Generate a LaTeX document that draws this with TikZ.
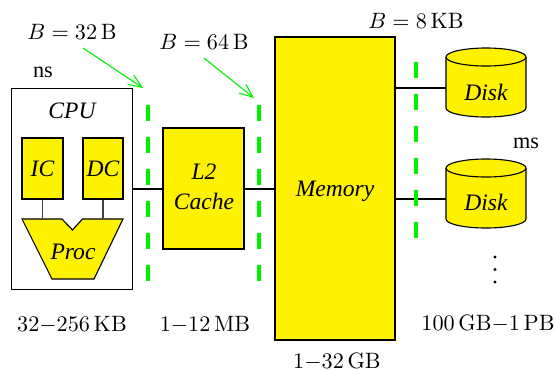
\documentclass[tikz,border=0pt]{standalone}
\usepackage[no-math]{fontspec}
\setmainfont{Liberation Serif}
\usetikzlibrary{arrows.meta}
\definecolor{gr}{RGB}{0,240,0}
\begin{document}
\begin{tikzpicture}[x=0.45pt,y=-0.45pt,
  box/.style={draw=black, line width=0.5pt, fill=yellow, inner sep=0pt},
  lbl/.style={font=\fontsize{10.6}{13.5}\selectfont\itshape, inner sep=0pt, align=center},
  txt/.style={font=\fontsize{10}{12}\selectfont, inner sep=0pt},
  gdash/.style={draw=gr, line width=1.8pt, dash pattern=on 7.2pt off 7.2pt},
  garrow/.style={draw=gr, line width=0.5pt, -{Straight Barb[length=6pt,width=5pt]}},
  conn/.style={draw=black, line width=0.9pt},
  thin/.style={draw=black!75, line width=0.5pt}]
\useasboundingbox (0,0) rectangle (555,370);
% CPU enclosure
\node[draw=black, line width=0.45pt, fill=white, minimum width={121*0.45pt}, minimum height={201*0.45pt}] (cpu) at (72.5,188.5) {};
\node[lbl] (cputxt) at (72,111) {CPU};
\node[box, minimum width={41*0.45pt}, minimum height={61*0.45pt}] (ic) at (42.5,168.5) {};
\node[lbl] at (ic.center) {IC};
\node[box, minimum width={40*0.45pt}, minimum height={61*0.45pt}] (dc) at (103,168.5) {};
\node[lbl] at (dc.center) {DC};
% Proc
\filldraw[fill=yellow, draw=black, line width=0.5pt] (22,219) -- (62,219) -- (72.5,230) -- (82.5,219) -- (123,219) -- (94,279) -- (52,279) -- cycle;
\coordinate (ptop) at (72,219);
\node[lbl] (proc) at (73,252) {Proc};
\draw[thin] (ic.south) -- (ic.south |- ptop);
\draw[thin] (dc.south) -- (dc.south |- ptop);
% L2 and memory
\node[box, minimum width={81*0.45pt}, minimum height={121*0.45pt}] (l2) at (203.5,188.5) {};
\node[lbl] at (204,187) {L2\\Cache};
\node[box, minimum width={120*0.45pt}, minimum height={303*0.45pt}] (mem) at (335,188.5) {};
\node[lbl] at (335,191) {Memory};
\draw[conn] (cpu.east) -- (l2.west);
\draw[conn] (l2.east) -- (mem.west);
% Disks
\foreach \t in {57,168} {
  \fill[yellow] (446,\t) -- (446,\t+51) arc[start angle=180,end angle=0,x radius=40,y radius=9] -- (526,\t) -- cycle;
  \draw[line width=0.5pt] (446,\t) -- (446,\t+51) arc[start angle=180,end angle=0,x radius=40,y radius=9] -- (526,\t);
  \filldraw[fill=yellow, draw=black, line width=0.5pt] (486,\t) ellipse[x radius=40, y radius=9];
}
\node[lbl] (disk1) at (486,92) {Disk};
\node[lbl] (disk2) at (486,202) {Disk};
\coordinate (d1) at (446,88);
\coordinate (d2) at (446,199);
\draw[conn] (mem.east |- d1) -- (d1);
\draw[conn] (mem.east |- d2) -- (d2);
\foreach \y in {257,269.5,282} { \fill (495,\y) circle[radius=1.6]; }
% dashed boundaries
\draw[gdash] (148.5,105) -- (148.5,283);
\draw[gdash] (259,105) -- (259,283);
\draw[gdash] (416,62) -- (416,240);
% labels
\node[txt] (b32) at (72,32) {$B=32\,\mathrm{B}$};
\node[txt] (b64) at (204,42) {$B=64\,\mathrm{B}$};
\node[txt] (b8) at (416,21) {$B=8\,\mathrm{KB}$};
\coordinate (a1s) at (83,48);
\coordinate (a1e) at (143,88);
\coordinate (a2s) at (204,58);
\coordinate (a2e) at (254,98);
\draw[garrow] (a1s) -- (a1e);
\draw[garrow] (a2s) -- (a2e);
\node[txt] (ns) at (43,72) {ns};
\node[txt] (ms) at (526,143) {ms};
\node[txt] (s1) at (72,325) {$32{-}256\,\mathrm{KB}$};
\node[txt] (s2) at (205,325) {$1{-}12\,\mathrm{MB}$};
\node[txt] (s3) at (337,362) {$1{-}32\,\mathrm{GB}$};
\node[txt] (s4) at (488,324) {$100\,\mathrm{GB}{-}1\,\mathrm{PB}$};
\end{tikzpicture}
\end{document}
